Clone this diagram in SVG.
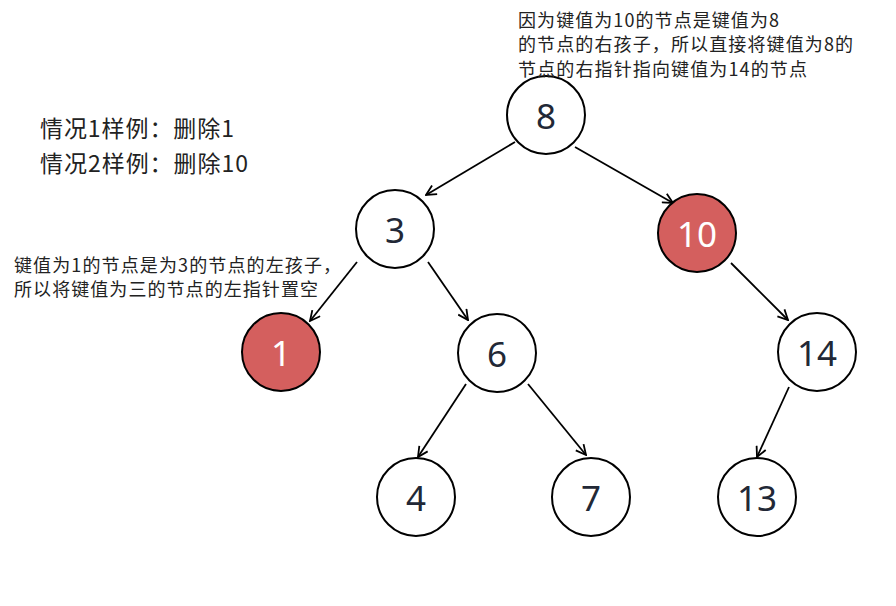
<svg xmlns="http://www.w3.org/2000/svg" width="896" height="606" viewBox="0 0 896 606">
<style>
.n circle{fill:#fff;stroke:#000;stroke-width:2}
.n.red circle{fill:#d45f5e}
.n text{font-family:"Noto Sans","Noto Sans CJK SC",sans-serif;font-size:35px;fill:#222836;text-anchor:middle;dominant-baseline:central}
.n.red text{fill:#fff}
.lbl{font-family:"Noto Sans CJK SC",sans-serif;fill:#222}
#edges line{stroke:#000;stroke-width:1.8;marker-end:url(#ah)}
</style>
<defs>
<marker id="ah" viewBox="0 0 12 12" refX="11" refY="6" markerWidth="12" markerHeight="12" markerUnits="userSpaceOnUse" orient="auto">
<path d="M1,1 L11,6 L1,11" fill="none" stroke="#000" stroke-width="1.8"/>
</marker>
</defs>
<rect width="896" height="606" fill="#fff"/>
<g id="edges">
<line x1="515" y1="142" x2="426" y2="195"/>
<line x1="575" y1="147" x2="673" y2="203"/>
<line x1="357" y1="262" x2="310" y2="321"/>
<line x1="428" y1="262" x2="468" y2="320"/>
<line x1="731" y1="263" x2="788" y2="320"/>
<line x1="466" y1="384" x2="418" y2="457"/>
<line x1="528" y1="384" x2="586" y2="455"/>
<line x1="789" y1="387" x2="757" y2="457"/>
</g>
<g id="node8" class="n"><circle cx="546" cy="115" r="39"/><text x="546" y="115">8</text></g>
<g id="node3" class="n"><circle cx="395" cy="229" r="39"/><text x="395" y="229">3</text></g>
<g id="node10" class="n red"><circle cx="697" cy="233" r="39"/><text x="697" y="233">10</text></g>
<g id="node1" class="n red"><circle cx="281" cy="352" r="39"/><text x="281" y="352">1</text></g>
<g id="node6" class="n"><circle cx="497" cy="353" r="39"/><text x="497" y="353">6</text></g>
<g id="node14" class="n"><circle cx="817" cy="352" r="39"/><text x="817" y="352">14</text></g>
<g id="node4" class="n"><circle cx="416" cy="497" r="39"/><text x="416" y="497">4</text></g>
<g id="node7" class="n"><circle cx="591" cy="497" r="39"/><text x="591" y="497">7</text></g>
<g id="node13" class="n"><circle cx="757" cy="497" r="39"/><text x="757" y="497">13</text></g>
<g id="note-top" class="lbl" font-size="18">
<text x="518" y="27" textLength="261" lengthAdjust="spacing">因为键值为10的节点是键值为8</text>
<text x="518" y="51" textLength="335" lengthAdjust="spacing">的节点的右孩子，所以直接将键值为8的</text>
<text x="518" y="76" textLength="289" lengthAdjust="spacing">节点的右指针指向键值为14的节点</text>
</g>
<g id="note-cases" class="lbl" font-size="23">
<text x="40" y="137" textLength="194" lengthAdjust="spacing">情况1样例：删除1</text>
<text x="40" y="172" textLength="208" lengthAdjust="spacing">情况2样例：删除10</text>
</g>
<g id="note-left" class="lbl" font-size="18">
<text x="14" y="272" textLength="327" lengthAdjust="spacing">键值为1的节点是为3的节点的左孩子，</text>
<text x="14" y="296" textLength="304" lengthAdjust="spacing">所以将键值为三的节点的左指针置空</text>
</g>
</svg>
